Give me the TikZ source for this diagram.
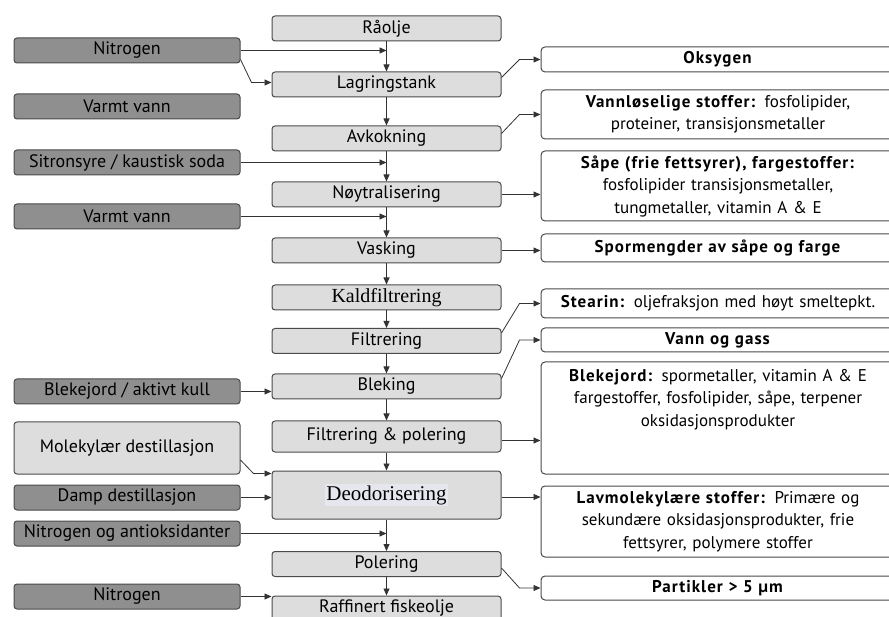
\documentclass[tikz,border=0pt]{standalone}
\usepackage{fontspec}
\setmainfont{PT Sans}[BoldFeatures={LetterSpace=6}]
\newfontfamily\serifface{Liberation Serif}
\usetikzlibrary{arrows.meta}
\definecolor{boxline}{HTML}{4A4A4A}
\definecolor{lightbox}{HTML}{DDDDDD}
\definecolor{darkbox}{HTML}{8F8F8F}
\definecolor{marktext}{HTML}{E6E6EE}
\begin{document}
\begin{tikzpicture}[x=1pt,y=-1pt,
    font=\fontsize{18}{22}\selectfont,
    stepbox/.style={draw=boxline,fill=lightbox,rounded corners=3pt,line width=1pt,minimum width=229pt,minimum height=25pt,inner sep=0pt},
    inbox/.style={draw=boxline,fill=darkbox,rounded corners=3pt,line width=1pt,minimum width=226pt,minimum height=25pt,inner sep=0pt},
    outbox/.style={draw=boxline,fill=white,rounded corners=4pt,line width=1pt,minimum width=354pt,inner sep=0pt,text width=344pt,align=center,font=\fontsize{17}{22.5}\selectfont},
    flow/.style={-{Triangle[length=7pt,width=6pt]},line width=0.8pt,draw=black!80}]
    \useasboundingbox (0,0) rectangle (889,617);

    % Process steps %
    \node[stepbox] (raolje) at (386.5,28.5) {Råolje};
    \node[stepbox] (lagring) at (386.5,84.5) {Lagringstank};
    \node[stepbox] (avkok) at (386.5,138.5) {Avkokning};
    \node[stepbox] (noytral) at (386.5,194.5) {Nøytralisering};
    \node[stepbox] (vask) at (386.5,250.5) {Vasking};
    \node[stepbox] (kald) at (386.5,297.5) {\serifface\fontsize{20}{22}\selectfont Kaldfiltrering};
    \node[stepbox] (filtr) at (386.5,341) {Filtrering};
    \node[stepbox] (blek) at (386.5,386.5) {Bleking};
    \node[stepbox,minimum height=31pt] (filpol) at (386.5,436.5) {Filtrering \& polering};
    \node[stepbox,minimum height=48pt] (deodor) at (386.5,495) {\setlength\fboxsep{1pt}\colorbox{marktext}{\serifface\fontsize{21}{23}\selectfont Deodorisering}};
    \node[stepbox] (poler) at (386.5,564) {Polering};
    \node[stepbox] (raff) at (386.5,608.5) {Raffinert fiskeolje};

    \foreach \a/\b in {raolje/lagring,lagring/avkok,avkok/noytral,noytral/vask,vask/kald,kald/filtr,filtr/blek,blek/filpol,filpol/deodor,deodor/poler,poler/raff}
        \draw[flow] (\a) -- (\b);

    % Inputs %
    \node[inbox] (nitro1) at (127,50.5) {Nitrogen};
    \node[inbox] (varm1) at (127,106.5) {Varmt vann};
    \node[inbox] (sitron) at (127,162.5) {Sitronsyre / kaustisk soda};
    \node[inbox] (varm2) at (127,216.5) {Varmt vann};
    \node[inbox] (blekkull) at (127,391.5) {Blekejord / aktivt kull};
    \node[inbox,fill=lightbox,minimum height=52pt] (molek) at (127,448) {Molekylær destillasjon};
    \node[inbox] (damp) at (127,497.5) {Damp destillasjon};
    \node[inbox] (nitanti) at (127,533.5) {Nitrogen og antioksidanter};
    \node[inbox] (nitro2) at (127,596.5) {Nitrogen};

    \draw[flow] (nitro1.east) -- (nitro1.east -| raolje.south);
    \draw[flow] ([yshift=-9pt]nitro1.east) -- ([xshift=-20pt,yshift=2pt]lagring.west) -- ([yshift=2pt]lagring.west);
    \draw[flow] (sitron.east) -- (sitron.east -| avkok.south);
    \draw[flow] (varm2.east) -- (varm2.east -| noytral.south);
    \draw[flow] (blekkull.east) -- (blekkull.east -| blek.west);
    \draw[flow] ([yshift=-12pt]molek.east) -- ([xshift=-18pt,yshift=-3pt]deodor.north west) -- ([yshift=-3pt]deodor.north west);
    \draw[flow] (damp.east) -- (damp.east -| deodor.west);
    \draw[flow] (nitanti.east) -- (nitanti.east -| deodor.south);
    \draw[flow] (nitro2.east) -- (nitro2.east -| raff.west);

    % Removed %
    \node[outbox,minimum height=25pt] (oksy) at (718,59.5) {\textbf{Oksygen}};
    \node[outbox,minimum height=49pt] (vannl) at (718,114.5) {\textbf{Vannløselige stoffer:} fosfolipider,\\ proteiner, transisjonsmetaller};
    \node[outbox,minimum height=70pt] (sape) at (718,186) {\textbf{Såpe (frie fettsyrer), fargestoffer:}\\ fosfolipider transisjonsmetaller,\\ tungmetaller, vitamin A \& E};
    \node[outbox,minimum height=28pt] (sporm) at (718,248) {\textbf{Spormengder av såpe og farge}};
    \node[outbox,minimum height=29pt] (stear) at (718,303.5) {\textbf{Stearin:} oljefraksjon med høyt smeltepkt.};
    \node[outbox,minimum height=24pt] (vanngass) at (718,340) {\textbf{Vann og gass}};
    \node[outbox,minimum height=112pt] (blekjord) at (718,418) {};
    \node[text width=344pt,align=center,anchor=north,font=\fontsize{17}{22.5}\selectfont] (blekjordtext) at ([yshift=-4pt]blekjord.north) {\textbf{Blekejord:} spormetaller, vitamin A \& E\\ fargestoffer, fosfolipider, såpe, terpener\\ oksidasjonsprodukter};
    \node[outbox,minimum height=71pt] (lavmol) at (718,521.5) {\textbf{Lavmolekylære stoffer:} Primære og\\ sekundære oksidasjonsprodukter, frie\\ fettsyrer, polymere stoffer};
    \node[outbox,minimum height=24pt] (partik) at (718,588) {\textbf{Partikler > 5 µm}};

    \draw[flow] ([yshift=7pt]lagring.east) -- ([xshift=-21pt]oksy.west) -- (oksy.west);
    \draw[flow] ([yshift=5pt]avkok.east) -- ([xshift=-21pt]vannl.west) -- (vannl.west);
    \draw[flow] (noytral.east) -- (noytral.east -| sape.west);
    \draw[flow] (vask.east) -- (vask.east -| sporm.west);
    \draw[flow] ([yshift=8pt]filtr.east) -- ([xshift=-21pt]stear.west) -- (stear.west);
    \draw[flow] ([yshift=8pt]blek.east) -- ([xshift=-21pt]vanngass.west) -- (vanngass.west);
    \draw[flow] ([yshift=-4pt]filpol.east) -- ([yshift=-4pt]filpol.east -| blekjord.west);
    \draw[flow] ([yshift=-2pt]deodor.east) -- ([yshift=-2pt]deodor.east -| lavmol.west);
    \draw[flow] ([yshift=-4pt]poler.east) -- ([xshift=-21pt]partik.west) -- (partik.west);
\end{tikzpicture}
\end{document}
